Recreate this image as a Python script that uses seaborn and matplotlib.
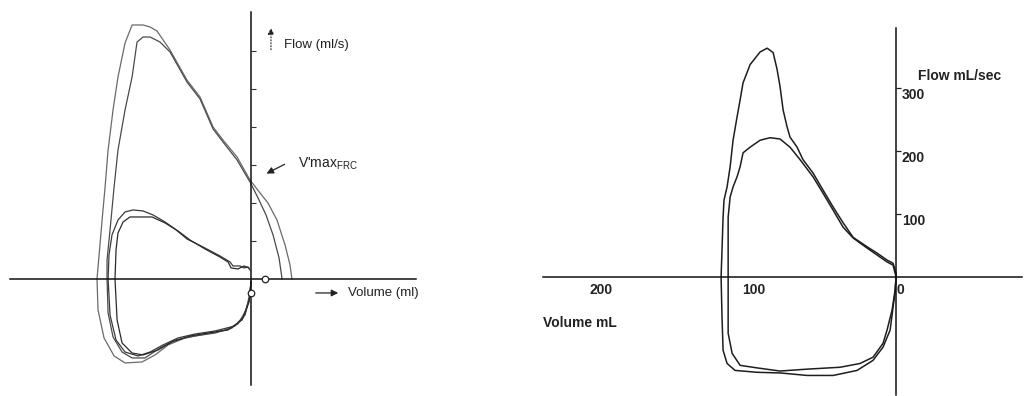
import numpy as np
import pandas as pd
import matplotlib
matplotlib.use("Agg")
import matplotlib.pyplot as plt
import seaborn as sns

# ---------------- data: left panel (volume ml, flow ml/s) ----------------
big1_vol = [0, -0.7, -3.3, -8.7, -17.3, -30.7, -44, -55.3, -64, -72.7, -84, -91.3, -98, -102, -102.7,
            -101.3, -99.3, -97.3, -95.3, -92, -88.7, -84, -79.3, -72, -67.3, -62.7, -54, -42.7, -34,
            -25.3, -18.7, -9.3, -0.7, 6, 11.3, 17.3, 22.7, 26, 27.3]
big1_flow = [-2.6, -18.4, -40.8, -59.2, -67.1, -72.4, -77.6, -86.8, -100, -109.2, -110.5, -101.3, -77.6,
             -40.8, 0, 31.6, 77.6, 121, 169.7, 222.4, 265.8, 310.5, 334.2, 334.2, 331.6, 326.3, 301.3,
             261.8, 239.5, 200, 182.9, 160.5, 130.3, 113.2, 100, 77.6, 44.7, 18.4, 0]

big2_vol = [0, -1.3, -5.3, -12.7, -24, -37.3, -50.7, -60.7, -70.7, -79.3, -86, -92, -95.3, -96, -96,
            -94, -91.3, -88.7, -84, -79.3, -76, -72, -67.3, -60.7, -54, -42.7, -34, -25.3, -18.7,
            -9.3, -0.7, 4.7, 10, 14.7, 18.7, 20.7]
big2_flow = [-3.9, -27.6, -51.3, -64.5, -71.1, -75, -80.3, -90.8, -103.9, -103.9, -96.1, -76.3, -44.7,
             0, 25, 64.5, 121.1, 169.7, 222.4, 265.8, 311.8, 318.4, 318.4, 311.8, 298.7, 259.2, 236.8,
             197.4, 180.3, 156.6, 127.6, 106.6, 84.2, 57.9, 27.6, 0]

small1_vol = [0, -0.7, -4, -10.7, -24, -37.3, -48.7, -58.7, -67.3, -75.3, -84, -90, -94, -95.3, -94.7,
              -92.7, -88.7, -84, -78.7, -72, -65.3, -57.3, -50.7, -42.7, -32, -20.7, -14, -12, -7.3,
              -4.7, -2, -0.7]
small1_flow = [-2.6, -22.4, -47.4, -61.8, -68.4, -72.4, -77.6, -86.8, -96.1, -101.3, -96.1, -80.3, -47.4,
               0, 31.6, 57.9, 77.6, 88.2, 90.8, 89.5, 84.2, 75, 65.8, 52.6, 42.1, 30.3, 22.4, 17.1,
               17.1, 14.5, 15.8, 11.8]

small2_vol = [0, -1.3, -6, -15.3, -28.7, -40.7, -52.7, -62, -72, -79.3, -86, -89.3, -90.7, -90, -88.7,
              -85.3, -80.7, -66, -57.3, -48.7, -40.7, -30.7, -20.7, -15.3, -13.3, -8.7, -4.7, -1.3]
small2_flow = [-3.9, -30.3, -53.9, -67.1, -71.1, -75, -82.9, -93.4, -100, -97.4, -84.2, -53.9, 0, 38.2,
               60.5, 75, 81.6, 81.6, 73.7, 63.2, 51.3, 39.5, 28.9, 22.4, 14.5, 13.2, 17.1, 14.5]

marker_vol = [9.3, 0]
marker_flow = [0, -18.4]
left_yticks = [50, 100, 150, 200, 250, 300]

# ---------------- data: right panel (volume mL, flow mL/sec) ----------------
loopA_vol = [0, 0.7, 2.0, 3.9, 8.5, 15.0, 25.4, 41.0, 58.0, 75.6, 90.6, 104.9, 110.1, 112.7, 113.4,
             114.0, 113.4, 112.7, 112.1, 110.1, 108.1, 106.2, 103.6, 101.6, 99.7, 95.1, 88.6, 84.0,
             80.1, 77.5, 75.6, 73.6, 71.0, 69.1, 64.5, 60.6, 54.1, 47.6, 41.0, 34.5, 28.0, 18.9,
             12.4, 5.9, 2.0, 0, 0]
loopA_flow = [0, -25, -48, -84, -111, -132, -148, -156, -156, -152, -151, -148, -137, -116, -63, 0,
              43, 95, 122, 143, 175, 217, 254, 281, 308, 337, 357, 363, 356, 329, 302, 265, 238,
              222, 206, 186, 165, 138, 111, 86, 63, 48, 38, 27, 22, 6, 0]

loopB_vol = [0, 0.7, 2.6, 5.9, 8.5, 15.0, 23.5, 36.5, 58.0, 75.6, 90.6, 101.6, 106.8, 109.4, 109.4,
             109.4, 108.1, 106.2, 103.6, 101.6, 99.7, 95.1, 88.6, 82.1, 75.6, 69.1, 62.5, 54.1, 47.6,
             41.0, 34.5, 28.0, 18.9, 12.4, 5.9, 2.0, 0]
loopB_flow = [0, -21, -52, -84, -105, -127, -137, -143, -146, -149, -144, -140, -121, -89, 0, 95,
              127, 143, 159, 175, 197, 206, 217, 221, 219, 206, 186, 159, 133, 106, 79, 62, 46,
              35, 24, 19, 0]

right_yticks = [100, 200, 300]
right_ylabels = ["100", "200", "300"]
right_xticks = [200, 100, 0]
right_xlabels = ["200", "100", "0"]

# ---------------- figure ----------------
sns.set_theme(style="white")
plt.rcParams["font.family"] = ["Liberation Sans", "DejaVu Sans"]
plt.rcParams["mathtext.fontset"] = "custom"
plt.rcParams["mathtext.rm"] = "Liberation Sans"

W, H = 1025, 396
fig = plt.figure(figsize=(W / 100, H / 100), dpi=100)
fig.patch.set_facecolor("white")

def frac(x0, y0, x1, y1):
    return [x0 / W, 1 - y1 / H, (x1 - x0) / W, (y1 - y0) / H]

axL = fig.add_axes(frac(10, 12, 416, 385))
axR = fig.add_axes(frac(543, 28, 1022, 395))

for ax in (axL, axR):
    ax.set_facecolor("none")
    for s in ("top", "right", "left", "bottom"):
        ax.spines[s].set_visible(False)

# ---- left panel ----
loops = [(big1_vol, big1_flow, "#6a6a6a", 0.9),
         (big2_vol, big2_flow, "#4a4a4a", 0.9),
         (small1_vol, small1_flow, "#3a3a3a", 0.9),
         (small2_vol, small2_flow, "#2a2a2a", 0.9)]
for v, f, c, lw in loops:
    df = pd.DataFrame({"vol": v, "flow": f})
    sns.lineplot(data=df, x="vol", y="flow", sort=False, estimator=None, ax=axL,
                 color=c, lw=lw)
sns.scatterplot(x=marker_vol, y=marker_flow, ax=axL, s=22, facecolor="white",
                edgecolor="#222222", linewidth=0.9, zorder=5)

axL.set_xlim(-160.7, 110)
axL.set_ylim(-139.5, 351.3)
axL.spines["left"].set_visible(True)
axL.spines["bottom"].set_visible(True)
axL.spines["left"].set_position(("data", 0))
axL.spines["bottom"].set_position(("data", 0))
for s in ("left", "bottom"):
    axL.spines[s].set_color("#111111")
    axL.spines[s].set_linewidth(1.1)
axL.set_yticks(left_yticks)
axL.set_yticklabels([])
axL.set_xticks([])
axL.tick_params(axis="y", direction="in", length=3.5, width=0.8, color="#333333", left=True)
axL.set_xlabel("")
axL.set_ylabel("")

axL.annotate("", xy=(13.3, 334), xytext=(13.3, 298),
             arrowprops=dict(arrowstyle="-|>", color="#222222", lw=0.8, ls=":",
                             mutation_scale=9))
axL.text(22, 308, "Flow (ml/s)", fontsize=9.5, color="#222222", va="center", ha="left")
axL.annotate("", xy=(8.7, 137), xytext=(24, 152.6),
             arrowprops=dict(arrowstyle="-|>", color="#222222", lw=0.9, mutation_scale=10))
axL.text(31.3, 152, r"V'max$_{\mathrm{FRC}}$", fontsize=10, color="#222222", va="center", ha="left")
axL.annotate("", xy=(60, -18.4), xytext=(41.3, -18.4),
             arrowprops=dict(arrowstyle="-|>", color="#222222", lw=0.9, mutation_scale=10))
axL.text(64.7, -18.4, "Volume (ml)", fontsize=9.5, color="#222222", va="center", ha="left",
         clip_on=False)

# ---- right panel ----
for v, f in ((loopA_vol, loopA_flow), (loopB_vol, loopB_flow)):
    df = pd.DataFrame({"vol": v, "flow": f})
    sns.lineplot(data=df, x="vol", y="flow", sort=False, estimator=None, ax=axR,
                 color="#1e1e1e", lw=1.1)

axR.set_xlim(230, -82)
axR.set_ylim(-187, 395)
axR.spines["right"].set_visible(True)
axR.spines["bottom"].set_visible(True)
axR.spines["right"].set_position(("data", 0))
axR.spines["bottom"].set_position(("data", 0))
for s in ("right", "bottom"):
    axR.spines[s].set_color("#111111")
    axR.spines[s].set_linewidth(1.1)
axR.yaxis.tick_right()
axR.set_yticks(right_yticks)
axR.set_yticklabels(right_ylabels)
axR.set_xticks(right_xticks)
axR.set_xticklabels(right_xlabels)
axR.tick_params(axis="y", direction="out", length=3.5, width=0.9, pad=0.5, labelsize=10,
                colors="#222222")
axR.tick_params(axis="x", direction="out", length=3.5, width=0.9, pad=0.5, labelsize=10,
                colors="#222222")
for lbl in axR.get_yticklabels():
    lbl.set_va("top")
    lbl.set_fontweight("bold")
for lbl in axR.get_xticklabels():
    lbl.set_ha("left")
    lbl.set_fontweight("bold")
axR.set_xlabel("")
axR.set_ylabel("")
axR.text(-14.3, 319, "Flow mL/sec", fontsize=10, fontweight="bold", color="#222222",
         va="center", ha="left", clip_on=False)
axR.text(230, -73, "Volume mL", fontsize=10, fontweight="bold", color="#222222",
         va="center", ha="left", clip_on=False)

fig.savefig("out.png", dpi=100, facecolor="white")
